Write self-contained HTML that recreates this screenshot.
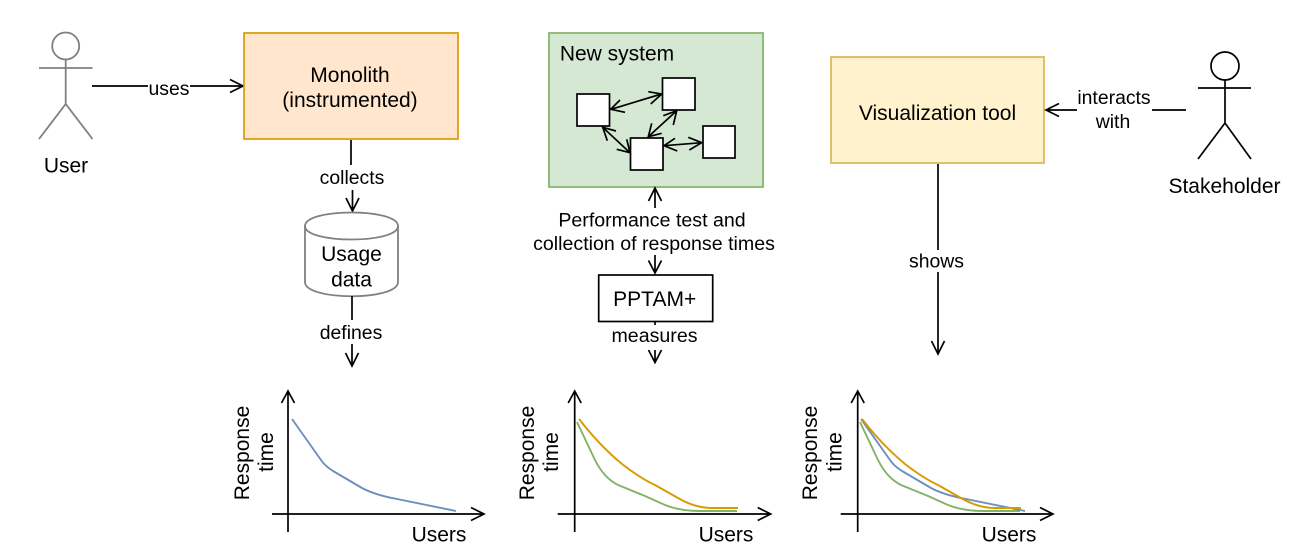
<!DOCTYPE html>
<html><head><meta charset="utf-8"><style>
html,body{margin:0;padding:0;background:#fff}
svg{display:block}
text{font-family:"Liberation Sans",Arial,sans-serif;font-size:19.4px;fill:#000;text-anchor:middle}
.b{font-size:21px}
.m{font-size:19.6px}
.l{fill:none;stroke:#000;stroke-width:1.7}
.g{fill:none;stroke:#808080;stroke-width:1.8}
.w{fill:#fff;stroke:#000;stroke-width:1.7}
.c{fill:none;stroke-width:1.9;stroke-linejoin:round}
.bl{stroke:#6c8ebf}.or{stroke:#d79b00}.gr{stroke:#82b366}
</style></head><body>
<svg width="1313" height="558" viewBox="0 0 1313 558" xmlns="http://www.w3.org/2000/svg">
<rect width="1313" height="558" fill="#fff"/>

<!-- User actor -->
<g class="g"><circle cx="65.7" cy="46" r="13.5"/><path d="M65.7 59.5V104M39 68H92.500M39 139L65.700 104L92.500 139"/></g>
<text class="b" x="66" y="172.500">User</text>

<!-- uses -->
<path class="l" d="M92 86H148M190 86H243M230 79.500L243 86L230 92.500"/>
<text x="169" y="95">uses</text>

<!-- Monolith -->
<rect x="244" y="33" width="214" height="106" fill="#ffe6cc" stroke="#d79b00" stroke-width="2" stroke-opacity="0.85"/>
<text class="b" x="350" y="82">Monolith</text>
<text class="b" x="350" y="107">(instrumented)</text>

<!-- collects -->
<path class="l" d="M351 140V165M352.500 190V211M346 198L352.500 211L359 198"/>
<text x="352" y="184">collects</text>

<!-- cylinder -->
<path d="M305 226C305 208 398 208 398 226V282C398 301 305 301 305 282Z" fill="#fff" stroke="#808080" stroke-width="1.800"/>
<path d="M305 226C305 244 398 244 398 226" fill="none" stroke="#808080" stroke-width="1.800"/>
<text class="b" x="351.500" y="261">Usage</text>
<text class="b" x="351.500" y="286.500">data</text>

<!-- defines -->
<path class="l" d="M352 296V320M352 344V366M345.500 353L352 366L358.500 353"/>
<text x="351" y="339">defines</text>

<!-- New system -->
<rect x="549" y="33" width="214" height="154" fill="#d5e8d4" stroke="#82b366" stroke-width="2" stroke-opacity="0.85"/>
<text class="b" x="617" y="60.700">New system</text>
<rect class="w" x="577" y="94" width="32.500" height="32"/>
<rect class="w" x="662.500" y="78" width="32.500" height="32"/>
<rect class="w" x="630.500" y="138" width="32.500" height="32"/>
<rect class="w" x="703" y="126" width="32" height="32"/>
<g class="l">
<path d="M611 109.300L661.500 94M625 112.300L610.700 109.300L620 100M648.300 91.700L661.700 94L650.700 104"/>
<path d="M676.700 110.700L648.300 136.700M663.300 115.700L676.700 110.700L673.300 125M661.700 133.300L648.300 136.700L651.700 123.300"/>
<path d="M602.700 127.300L630 152.700M616 131L602.700 127.300L607.300 140.700M616.700 149.300L630 152.700L626.700 139.300"/>
<path d="M664 145.700L701.700 142.700M677.300 151L664 145.700L675 138.300M688.300 137.300L701.700 142.700L689.300 150"/>
</g>

<!-- performance test -->
<path class="l" d="M655 208V188M648.500 201L655 188L661.500 201"/>
<text class="m" x="652" y="226.700">Performance test and</text>
<text class="m" x="654" y="250">collection of response times</text>
<path class="l" d="M655 255V273M648.500 260.500L655 273L661.500 260.500"/>

<!-- PPTAM -->
<rect class="w" x="598.700" y="275" width="114" height="46.500"/>
<text class="b" x="654.700" y="306">PPTAM+</text>
<path class="l" d="M655 322V325M655 350V362.500M648.500 350L655 362.500L661.500 350"/>
<text class="m" x="654.500" y="342">measures</text>

<!-- Visualization tool -->
<rect x="831" y="57" width="213" height="106" fill="#fff2cc" stroke="#d6b656" stroke-width="2" stroke-opacity="0.85"/>
<text class="b" x="937.500" y="120">Visualization tool</text>

<!-- shows -->
<path class="l" d="M938 164V250M938 272V354M931.500 341L938 354L944.500 341"/>
<text x="936.500" y="267.500">shows</text>

<!-- interacts -->
<path class="l" d="M1046 110H1077M1152 110H1186M1059 103.500L1046 110L1059 116.500"/>
<text x="1114" y="104">interacts</text>
<text x="1113" y="128">with</text>

<!-- Stakeholder -->
<g class="l"><circle cx="1225" cy="66" r="14"/><path d="M1225 80V123M1198 88H1251M1198 159L1225 123L1251 159"/></g>
<text class="b" x="1224.500" y="193">Stakeholder</text>

<!-- chart 1 -->
<path class="l" d="M288 532V392M281.500 403L288 391L294.500 403M272 514H484M471 507.500L484 514L471 520.500"/>
<path class="c bl" d="M292 419L321 460Q325 466 333 471L362 488Q375 495 397 499L456 511"/>
<text class="b" transform="translate(249,453) rotate(-90)">Response</text>
<text class="b" transform="translate(273,452) rotate(-90)">time</text>
<text class="b" x="439" y="541.700">Users</text>

<!-- chart 2 -->
<path class="l" d="M574.700 532V392M568.200 403L574.700 391L581.200 403M557.700 514H770.700M757.700 507.500L770.700 514L757.700 520.500"/>
<path class="c gr" d="M577 422L595 460Q604 478 618 485L645 496L665 505Q680 511 700 511L737 511"/>
<path class="c or" d="M579 419Q600 446 622 464Q640 478 655 485L678 498Q695 508 712 508L738 508"/>
<text class="b" transform="translate(534,453) rotate(-90)">Response</text>
<text class="b" transform="translate(558,452) rotate(-90)">time</text>
<text class="b" x="726" y="541.700">Users</text>

<!-- chart 3 -->
<path class="l" d="M857.700 532V392M851.200 403L857.700 391L864.200 403M840.700 514H1053M1040 507.500L1053 514L1040 520.500"/>
<path class="c gr" transform="translate(283,0)" d="M577 422L595 460Q604 478 618 485L645 496L665 505Q680 511 700 511L737 511"/>
<path class="c bl" transform="translate(569,0)" d="M292 419L321 460Q325 466 333 471L362 488Q375 495 397 499L456 511"/>
<path class="c or" transform="translate(283,0)" d="M579 419Q600 446 622 464Q640 478 655 485L678 498Q695 508 712 508L738 508"/>
<text class="b" transform="translate(817,453) rotate(-90)">Response</text>
<text class="b" transform="translate(841.700,452) rotate(-90)">time</text>
<text class="b" x="1009" y="541.700">Users</text>
</svg>
</body></html>
